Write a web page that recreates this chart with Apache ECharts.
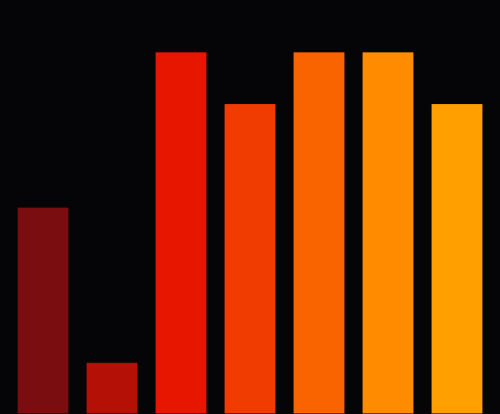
<!DOCTYPE html>
<html>
<head>
<meta charset="utf-8">
<script src="https://cdn.jsdelivr.net/npm/echarts@6/dist/echarts.min.js"></script>
<style>html,body{margin:0;padding:0;background:#050507;}#c{width:500px;height:414px;}</style>
</head>
<body>
<div id="c"></div>
<script>
var categories = ['A', 'B', 'C', 'D', 'E', 'F', 'G'];
var values = [4, 1, 7, 6, 7, 7, 6];
var colors = ['#790d0f', '#b41005', '#e61600', '#f03c00', '#fa6400', '#ff8c00', '#ffa000'];

var chart = echarts.init(document.getElementById('c'));
chart.setOption({
  backgroundColor: '#050507',
  animation: false,
  grid: { left: 8.5, right: 8.5, top: 0, bottom: 0 },
  xAxis: {
    type: 'category',
    data: categories,
    show: false
  },
  yAxis: {
    type: 'value',
    min: 0,
    max: 8,
    show: false
  },
  series: [{
    type: 'bar',
    barWidth: 52,
    data: values.map(function (v, i) {
      return { value: v, itemStyle: { color: colors[i], borderColor: 'rgba(0,0,0,0.15)', borderWidth: 1 } };
    })
  }]
});
</script>
</body>
</html>
